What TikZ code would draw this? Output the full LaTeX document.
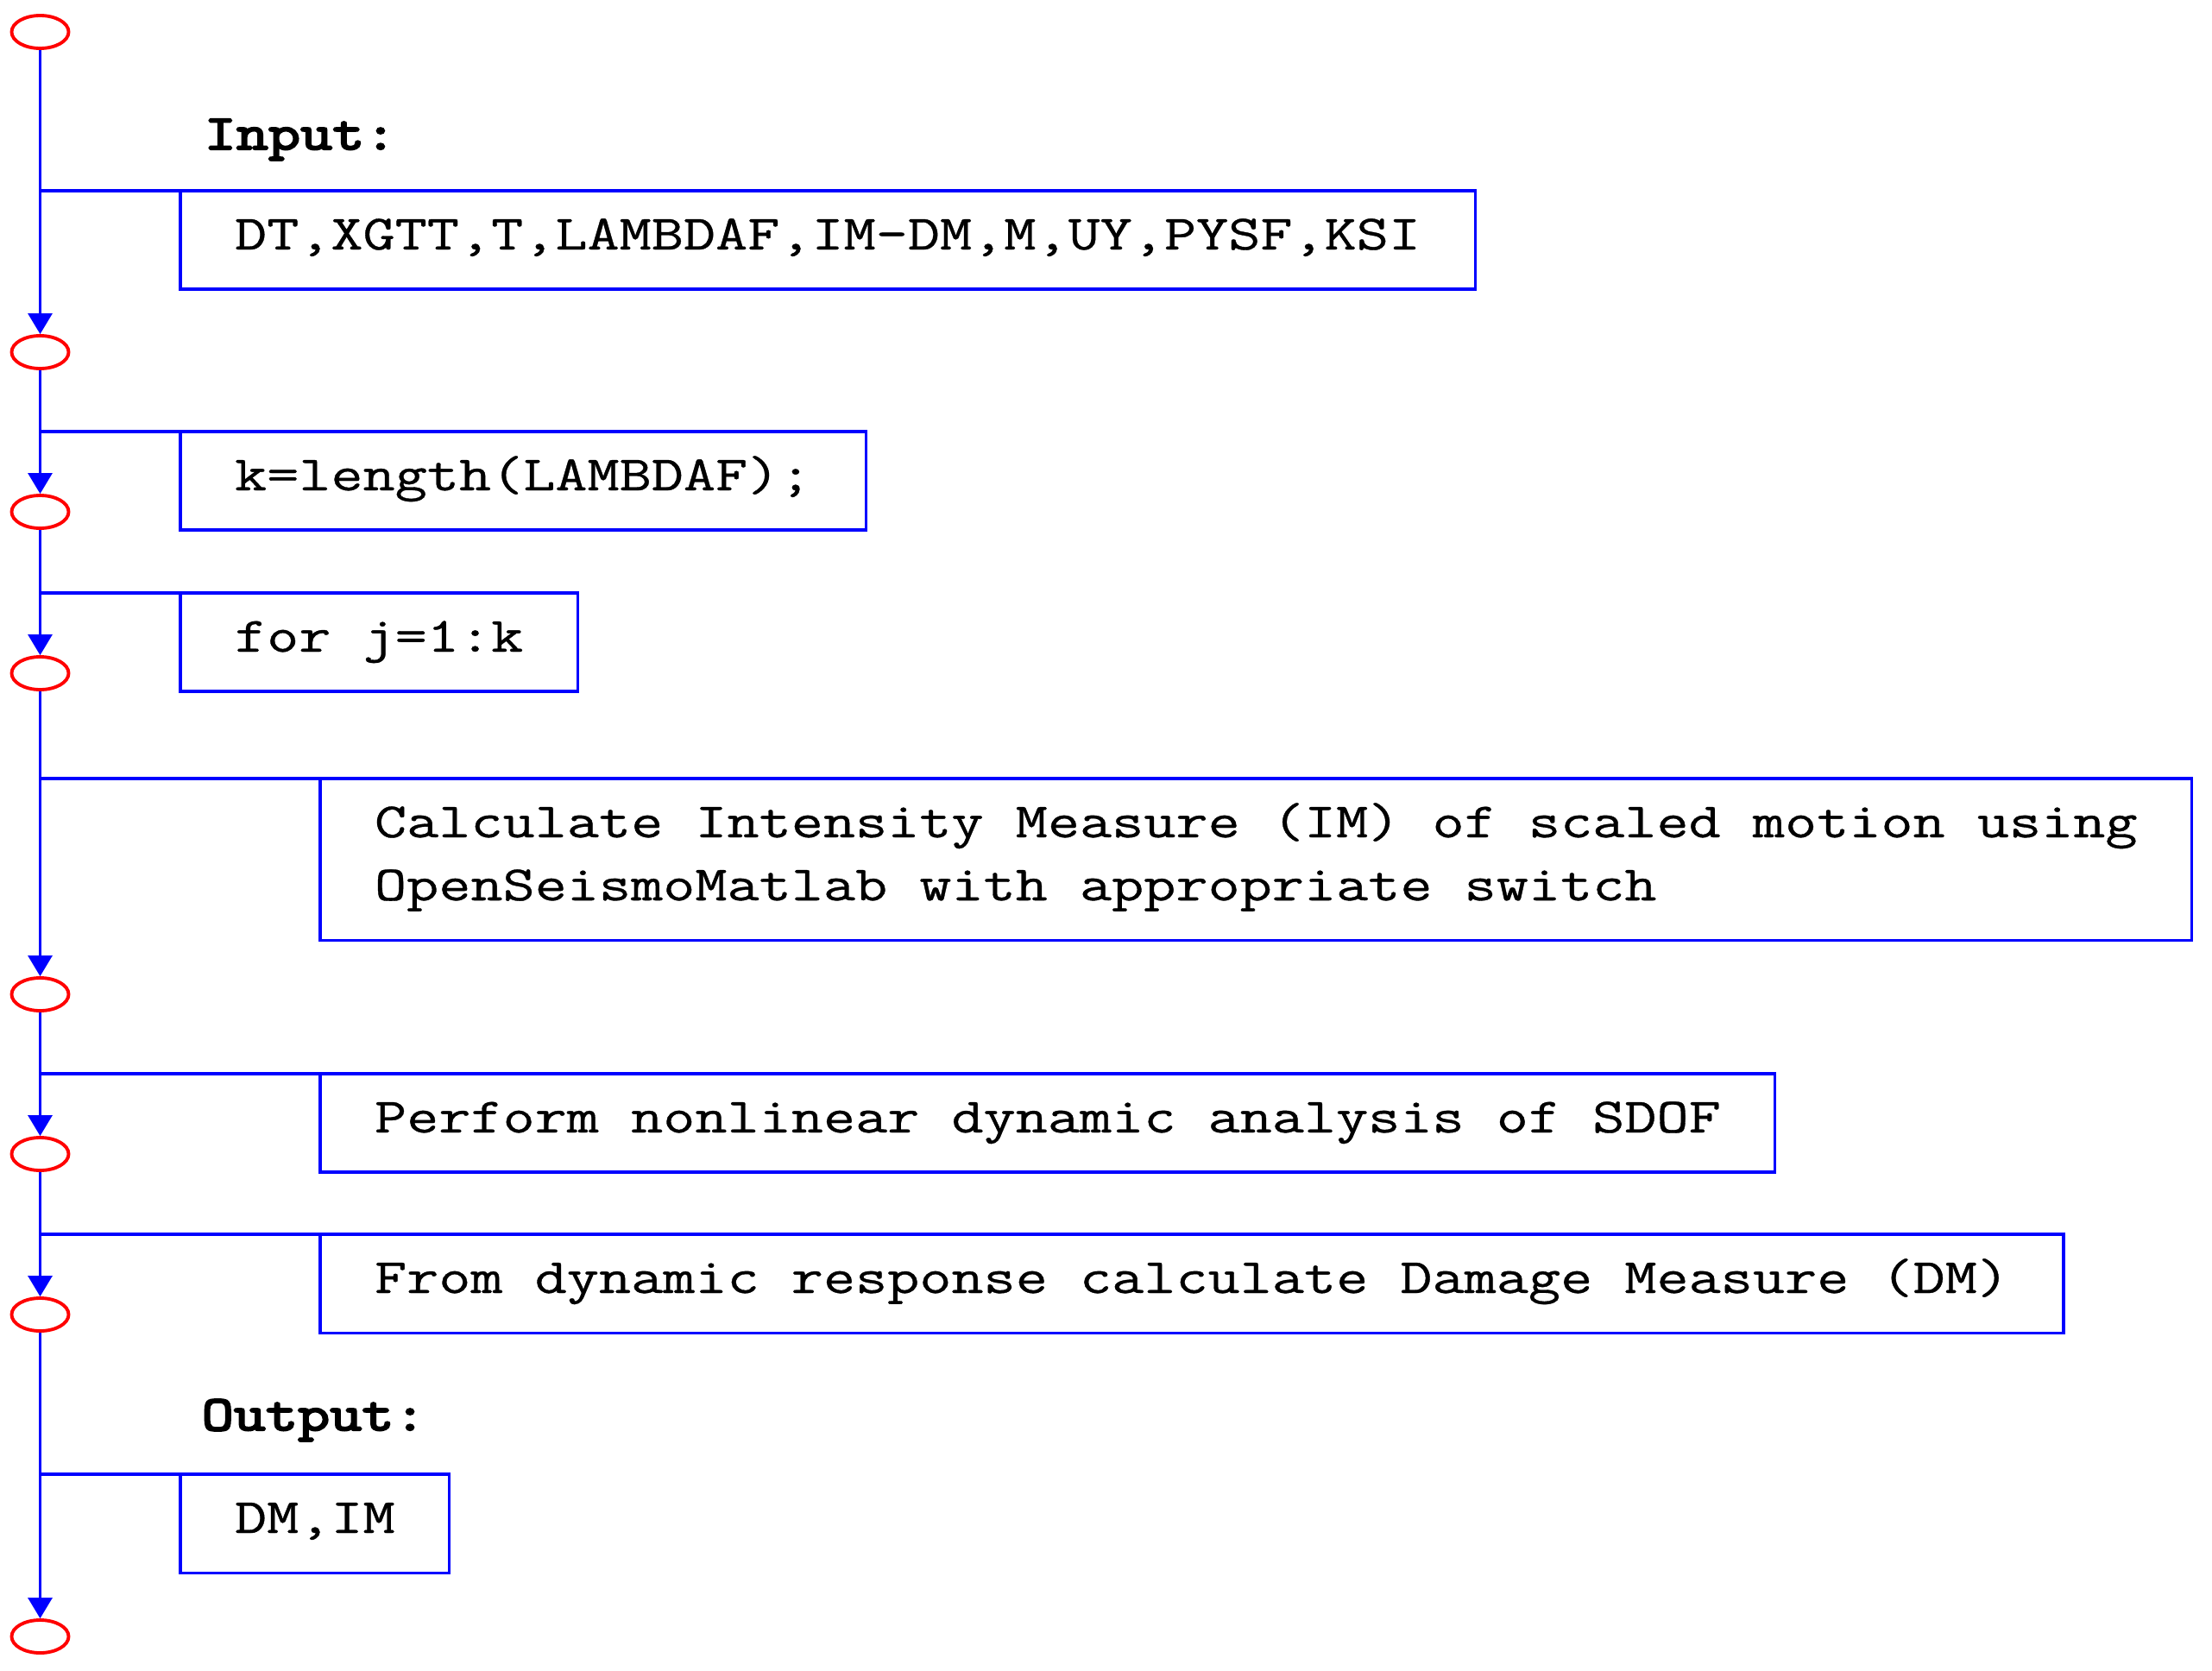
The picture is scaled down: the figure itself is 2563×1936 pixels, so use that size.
\documentclass[tikz,border=0pt]{standalone}
\usepackage{fontspec}
\newfontfamily\codefont{Latin Modern Mono}[FakeStretch=1.258,FakeBold=0.6]
\newfontfamily\codebold{Latin Modern Mono}[FakeStretch=1.258,FakeBold=4]
\usetikzlibrary{arrows.meta,shapes.geometric}
\begin{document}
\begin{tikzpicture}[x=0.01cm,y=-0.01cm,
  term/.style={ellipse,draw=red,line width=1.1pt,minimum width=0.66cm,minimum height=0.38cm,inner sep=0pt},
  box/.style={draw=blue,line width=0.9pt,anchor=north west,outer sep=0pt,inner xsep=0.63cm,inner ysep=0pt,
    text height=0.68cm,text depth=0.46cm,font=\codefont\fontsize{16.3}{20.8}\selectfont},
  flow/.style={blue,line width=0.9pt,-{Triangle[length=0.24cm,width=0.28cm]}},
  branch/.style={blue,line width=0.9pt},
  lbl/.style={anchor=base west,inner sep=0pt,font=\codebold\fontsize{16.3}{20.8}\selectfont}]
\useasboundingbox (0,0) rectangle (2563,1936);

\node[term] (e1) at (46.5,37) {};
\node[term] (e2) at (46.5,408) {};
\node[term] (e3) at (46.5,593) {};
\node[term] (e4) at (46.5,780) {};
\node[term] (e5) at (46.5,1152) {};
\node[term] (e6) at (46.5,1337) {};
\node[term] (e7) at (46.5,1523) {};
\node[term] (e8) at (46.5,1896) {};

\node[lbl] (inp) at (236,173) {Input:};
\node[lbl] (outp) at (233,1657) {Output:};

\node[box] (b1) at (209,221) {DT,XGTT,T,LAMBDAF,IM-DM,M,UY,PYSF,KSI};
\node[box] (b2) at (209,500) {k=length(LAMBDAF);};
\node[box] (b3) at (209,687) {for j=1:k};
\node[box,text depth=1.19cm] (b4) at (371,902) {\vtop{\baselineskip=0.73cm
  \hbox{Calculate Intensity Measure (IM) of scaled motion using}
  \hbox{OpenSeismoMatlab with appropriate switch}}};
\node[box] (b5) at (371,1244) {Perform nonlinear dynamic analysis of SDOF};
\node[box] (b6) at (371,1430) {From dynamic response calculate Damage Measure (DM)};
\node[box] (b7) at (209,1708) {DM,IM};

\draw[flow] (e1.south) -- (e2.north);
\draw[flow] (e2.south) -- (e3.north);
\draw[flow] (e3.south) -- (e4.north);
\draw[flow] (e4.south) -- (e5.north);
\draw[flow] (e5.south) -- (e6.north);
\draw[flow] (e6.south) -- (e7.north);
\draw[flow] (e7.south) -- (e8.north);

\draw[branch] (b1.north west) -- (b1.north west -| e1.south);
\draw[branch] (b2.north west) -- (b2.north west -| e2.south);
\draw[branch] (b3.north west) -- (b3.north west -| e3.south);
\draw[branch] (b4.north west) -- (b4.north west -| e4.south);
\draw[branch] (b5.north west) -- (b5.north west -| e5.south);
\draw[branch] (b6.north west) -- (b6.north west -| e6.south);
\draw[branch] (b7.north west) -- (b7.north west -| e7.south);
\end{tikzpicture}
\end{document}
